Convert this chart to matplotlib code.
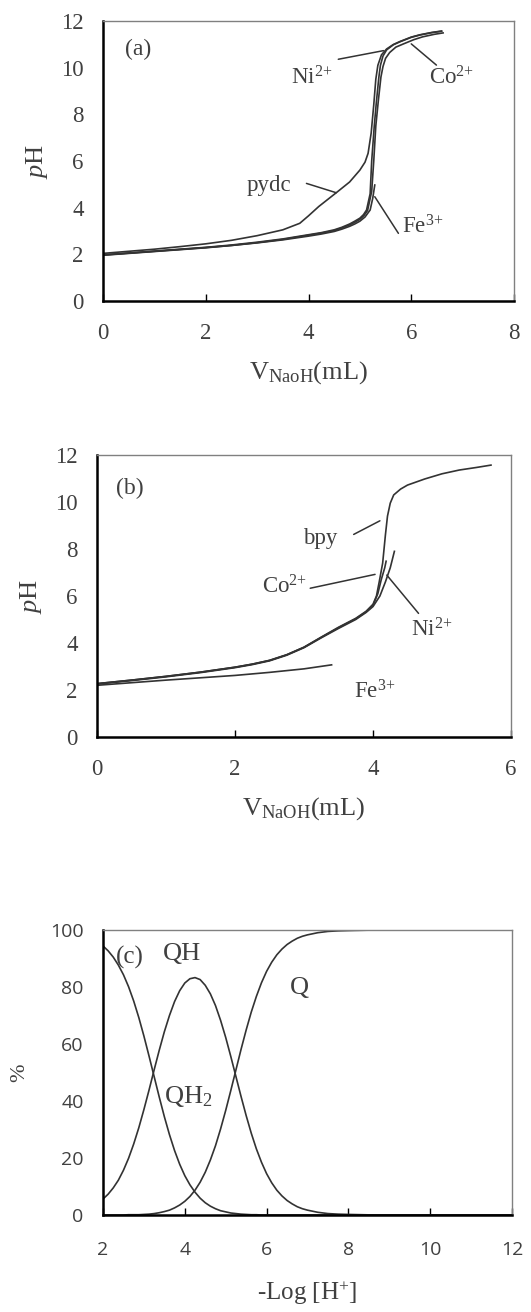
import matplotlib
matplotlib.use("Agg")
import matplotlib.pyplot as plt

plt.rcParams['font.family'] = ['Liberation Serif', 'DejaVu Serif']
plt.rcParams['mathtext.fontset'] = 'custom'
plt.rcParams['mathtext.rm'] = 'Liberation Serif'
plt.rcParams['mathtext.it'] = 'Liberation Serif:italic'
plt.rcParams['mathtext.bf'] = 'Liberation Serif:bold'

# ---------------- data (a): pydc system ----------------
a_ni_x = [0, 0.5, 1, 1.5, 2, 2.5, 3, 3.5, 4, 4.25, 4.5, 4.65, 4.8, 4.9, 5.0, 5.07, 5.13, 5.2, 5.23, 5.28, 5.32, 5.37, 5.4, 5.45, 5.52, 5.65, 5.78, 6.0, 6.17, 6.4, 6.59]
a_ni_y = [1.98, 2.06, 2.14, 2.22, 2.3, 2.4, 2.52, 2.66, 2.84, 2.93, 3.05, 3.16, 3.3, 3.42, 3.55, 3.7, 3.9, 4.6, 6.0, 7.5, 8.5, 9.6, 10.1, 10.5, 10.76, 10.98, 11.11, 11.3, 11.4, 11.5, 11.56]
a_co_x = [0, 0.5, 1, 1.5, 2, 2.5, 3, 3.5, 4, 4.25, 4.5, 4.65, 4.8, 4.9, 5.0, 5.08, 5.15, 5.23, 5.27, 5.31, 5.36, 5.41, 5.45, 5.5, 5.58, 5.7, 5.85, 6.05, 6.22, 6.45, 6.62]
a_co_y = [1.96, 2.04, 2.12, 2.2, 2.28, 2.38, 2.5, 2.64, 2.82, 2.91, 3.02, 3.13, 3.26, 3.37, 3.5, 3.66, 3.88, 4.7, 6.0, 7.5, 8.6, 9.6, 10.05, 10.4, 10.65, 10.88, 11.02, 11.2, 11.32, 11.43, 11.49]
a_fe_x = [0, 0.5, 1, 1.5, 2, 2.5, 3, 3.5, 4, 4.25, 4.5, 4.65, 4.8, 4.9, 5.0, 5.1, 5.2, 5.25, 5.29]
a_fe_y = [1.97, 2.05, 2.13, 2.21, 2.29, 2.38, 2.49, 2.62, 2.78, 2.87, 2.98, 3.08, 3.2, 3.3, 3.42, 3.6, 3.9, 4.4, 4.97]
a_pydc_x = [0, 0.5, 1, 1.5, 2, 2.5, 3, 3.5, 3.83, 4.0, 4.2, 4.54, 4.8, 5.0, 5.1, 5.16, 5.22, 5.27, 5.31, 5.35, 5.42, 5.52, 5.65, 5.78, 6.0, 6.17, 6.4, 6.59]
a_pydc_y = [2.04, 2.13, 2.22, 2.33, 2.45, 2.6, 2.8, 3.05, 3.33, 3.65, 4.05, 4.64, 5.1, 5.61, 5.95, 6.33, 7.2, 8.4, 9.5, 10.1, 10.55, 10.8, 10.99, 11.12, 11.31, 11.41, 11.51, 11.57]

# ---------------- data (b): bpy system ----------------
b_bpy_x = [0, 0.5, 1, 1.5, 2, 2.25, 2.5, 2.75, 3, 3.25, 3.5, 3.75, 3.9, 4.0, 4.05, 4.09, 4.14, 4.18, 4.21, 4.25, 4.3, 4.4, 4.5, 4.75, 5.0, 5.25, 5.5, 5.71]
b_bpy_y = [2.27, 2.42, 2.58, 2.76, 2.97, 3.1, 3.26, 3.5, 3.82, 4.25, 4.67, 5.05, 5.35, 5.65, 6.0, 6.6, 7.4, 8.6, 9.4, 9.95, 10.3, 10.55, 10.72, 10.98, 11.2, 11.36, 11.47, 11.57]
b_co_x = [0, 0.5, 1, 1.5, 2, 2.25, 2.5, 2.75, 3, 3.25, 3.5, 3.75, 3.9, 4.0, 4.07, 4.12, 4.17, 4.19]
b_co_y = [2.27, 2.42, 2.58, 2.76, 2.97, 3.1, 3.26, 3.5, 3.82, 4.24, 4.65, 5.03, 5.33, 5.6, 6.1, 6.7, 7.2, 7.48]
b_ni_x = [0, 0.5, 1, 1.5, 2, 2.25, 2.5, 2.75, 3, 3.25, 3.5, 3.75, 3.9, 4.0, 4.1, 4.18, 4.25, 4.31]
b_ni_y = [2.25, 2.4, 2.56, 2.74, 2.95, 3.08, 3.24, 3.48, 3.8, 4.22, 4.62, 5.0, 5.3, 5.55, 6.0, 6.6, 7.2, 7.9]
b_fe_x = [0, 0.5, 1, 1.5, 2, 2.5, 3, 3.4]
b_fe_y = [2.2, 2.31, 2.42, 2.52, 2.62, 2.75, 2.9, 3.07]

# ---------------- data (c): species distribution ----------------
c_x = [2, 2.125, 2.25, 2.375, 2.5, 2.625, 2.75, 2.875, 3, 3.125, 3.25, 3.375, 3.5, 3.625, 3.75, 3.875,
       4, 4.125, 4.25, 4.375, 4.5, 4.625, 4.75, 4.875, 5, 5.125, 5.25, 5.375, 5.5, 5.625, 5.75, 5.875,
       6, 6.125, 6.25, 6.375, 6.5, 6.625, 6.75, 6.875, 7, 7.25, 7.5, 7.75, 8, 8.5, 9, 10, 11, 12]
c_qh2 = [94.4, 92.7, 90.5, 87.7, 84.3, 80.1, 75.1, 69.3, 62.8, 55.8, 48.6, 41.4, 34.5, 28.2, 22.6, 17.8,
         13.8, 10.6, 8.0, 5.9, 4.3, 3.1, 2.2, 1.5, 1.1, 0.7, 0.5, 0.3, 0.2, 0.1, 0.1, 0,
         0, 0, 0, 0, 0, 0, 0, 0, 0, 0, 0, 0, 0, 0, 0, 0, 0, 0]
c_qh = [5.6, 7.3, 9.5, 12.2, 15.7, 19.9, 24.9, 30.6, 37.0, 43.8, 50.9, 57.8, 64.3, 70.0, 74.9, 78.7,
        81.4, 82.9, 83.3, 82.6, 80.6, 77.6, 73.5, 68.3, 62.3, 55.6, 48.6, 41.6, 34.9, 28.7, 23.2, 18.5,
        14.5, 11.3, 8.7, 6.7, 5.1, 3.9, 2.9, 2.2, 1.7, 0.95, 0.5, 0.3, 0.2, 0.05, 0, 0, 0, 0]
c_q = [0, 0, 0, 0, 0, 0.1, 0.1, 0.1, 0.2, 0.3, 0.5, 0.8, 1.2, 1.7, 2.5, 3.5,
       4.8, 6.5, 8.7, 11.5, 15.0, 19.3, 24.3, 30.2, 36.7, 43.7, 50.9, 58.1, 64.9, 71.2, 76.7, 81.5,
       85.5, 88.7, 91.3, 93.3, 94.9, 96.1, 97.1, 97.8, 98.3, 99.05, 99.5, 99.7, 99.8, 99.95, 100, 100, 100, 100]

a_xticks = [0, 2, 4, 6, 8]
b_xticks = [0, 2, 4, 6]
ab_yticks = [0, 2, 4, 6, 8, 10, 12]
c_xticks = [2, 4, 6, 8, 10, 12]
c_yticks = [0, 20, 40, 60, 80, 100]

TXT = '#404040'
LINE = '#333333'
W, H = 531, 1312

fig = plt.figure(figsize=(W / 100, H / 100), dpi=100)


def style(ax, sans=False):
    for s in ['left', 'bottom']:
        ax.spines[s].set_color('black')
        ax.spines[s].set_linewidth(1.8)
    for s in ['top', 'right']:
        ax.spines[s].set_color('#808080')
        ax.spines[s].set_linewidth(1.0)
    ax.tick_params(axis='x', direction='in', length=5, width=1.0, color='black',
                   labelcolor=TXT, pad=16)
    ax.tick_params(axis='y', length=0, labelcolor=TXT, pad=14)
    if sans:
        for lab in ax.get_xticklabels() + ax.get_yticklabels():
            lab.set_fontfamily('Open Sans')
            lab.set_fontsize(14)
    else:
        for lab in ax.get_xticklabels() + ax.get_yticklabels():
            lab.set_fontsize(16.5)


def leader(ax, p1, p2):
    ax.annotate('', xy=p2, xytext=p1,
                arrowprops=dict(arrowstyle='-', color=LINE, lw=1.1,
                                shrinkA=0, shrinkB=0))


fs = 16.5
SUP2 = r'$^{2{+}}$'
SUP3 = r'$^{3{+}}$'

# ---------- panel (a) ----------
axa = fig.add_axes([103 / W, 1 - 301 / H, 411 / W, 280 / H])
for xs, ys in [(a_pydc_x, a_pydc_y), (a_fe_x, a_fe_y), (a_co_x, a_co_y), (a_ni_x, a_ni_y)]:
    axa.plot(xs, ys, color=LINE, lw=1.2)
axa.set_xlim(0, 8)
axa.set_ylim(0, 12)
axa.set_xticks(a_xticks)
axa.set_yticks(ab_yticks)
style(axa)
axa.set_ylabel(r'$p$H', fontsize=19, color=TXT, labelpad=8)
axa.set_xlabel(r'V$_{\mathrm{NaoH}}$(mL)', fontsize=19, color=TXT, labelpad=11)
axa.text(0.68, 10.76, '(a)', fontsize=17, color=TXT, ha='center', va='center')
axa.text(4.07, 9.56, 'Ni' + SUP2, fontsize=fs, color=TXT, ha='center', va='center')
leader(axa, (4.58, 10.36), (5.46, 10.73))
axa.text(6.78, 9.55, 'Co' + SUP2, fontsize=fs, color=TXT, ha='center', va='center')
leader(axa, (6.0, 11.02), (6.49, 10.11))
axa.text(3.22, 4.97, 'pydc', fontsize=fs, color=TXT, ha='center', va='center')
leader(axa, (3.96, 5.04), (4.54, 4.64))
axa.text(6.23, 3.19, 'Fe' + SUP3, fontsize=fs, color=TXT, ha='center', va='center')
leader(axa, (5.29, 4.47), (5.75, 2.9))

# ---------- panel (b) ----------
axb = fig.add_axes([97 / W, 1 - 737 / H, 414 / W, 282 / H])
for xs, ys in [(b_fe_x, b_fe_y), (b_ni_x, b_ni_y), (b_co_x, b_co_y), (b_bpy_x, b_bpy_y)]:
    axb.plot(xs, ys, color=LINE, lw=1.2)
axb.set_xlim(0, 6)
axb.set_ylim(0, 12)
axb.set_xticks(b_xticks)
axb.set_yticks(ab_yticks)
style(axb)
axb.set_ylabel(r'$p$H', fontsize=19, color=TXT, labelpad=8)
axb.set_xlabel(r'V$_{\mathrm{NaOH}}$(mL)', fontsize=19, color=TXT, labelpad=11)
axb.text(0.48, 10.58, '(b)', fontsize=17, color=TXT, ha='center', va='center')
axb.text(3.23, 8.46, 'bpy', fontsize=fs, color=TXT, ha='center', va='center')
leader(axb, (3.72, 8.62), (4.10, 9.2))
axb.text(2.72, 6.4, 'Co' + SUP2, fontsize=fs, color=TXT, ha='center', va='center')
leader(axb, (3.09, 6.33), (4.03, 6.92))
axb.text(4.85, 4.55, 'Ni' + SUP2, fontsize=fs, color=TXT, ha='center', va='center')
leader(axb, (4.2, 6.89), (4.66, 5.26))
axb.text(4.03, 1.93, 'Fe' + SUP3, fontsize=fs, color=TXT, ha='center', va='center')

# ---------- panel (c) ----------
axc = fig.add_axes([103 / W, 1 - 1215 / H, 409 / W, 285 / H])
for ys in [c_qh2, c_qh, c_q]:
    axc.plot(c_x, ys, color=LINE, lw=1.2)
axc.set_xlim(2, 12)
axc.set_ylim(0, 100)
axc.set_xticks(c_xticks)
axc.set_yticks(c_yticks)
style(axc, sans=True)
axc.tick_params(axis='x', pad=19)
axc.set_ylabel('%', fontsize=16, color=TXT, labelpad=15)
axc.set_xlabel(r'-Log [H$^{+}$]', fontsize=18, color=TXT, labelpad=14)
axc.text(2.66, 90.4, '(c)', fontsize=18, color=TXT, ha='center', va='center')
axc.text(3.92, 91.6, 'QH', fontsize=19, color=TXT, ha='center', va='center')
axc.text(6.8, 79.5, 'Q', fontsize=19, color=TXT, ha='center', va='center')
axc.text(4.09, 41.5, r'QH$_2$', fontsize=19, color=TXT, ha='center', va='center')

fig.savefig('out.png', dpi=100)
